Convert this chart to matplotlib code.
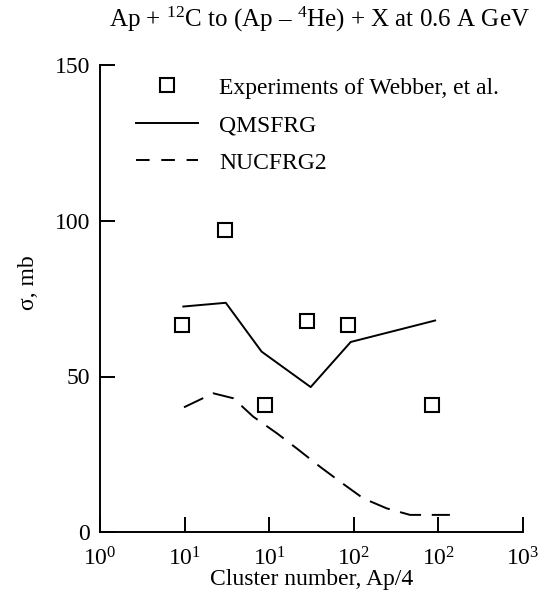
import matplotlib
matplotlib.use("Agg")
import matplotlib.pyplot as plt
from matplotlib.lines import Line2D

plt.rcParams['font.family'] = ['Liberation Serif', 'DejaVu Serif']
plt.rcParams['mathtext.fontset'] = 'custom'
plt.rcParams['mathtext.rm'] = 'Liberation Serif'
plt.rcParams['mathtext.it'] = 'Liberation Serif:italic'
plt.rcParams['mathtext.bf'] = 'Liberation Serif:bold'

# Data
exp_x = [3.8, 7.7, 14.8, 29.2, 57.7, 227]
exp_y = [66.4, 97.2, 40.7, 67.7, 66.4, 40.9]

qms_x = [3.9, 7.8, 14.0, 31.2, 60, 238]
qms_y = [72.5, 73.7, 58.0, 46.6, 61.1, 68.0]

nuc_x = [3.94, 6.36, 8.82, 12.2, 17.9, 24.8, 36.3, 50.4, 73.7, 108, 158, 303]
nuc_y = [40.1, 44.6, 43.0, 37.1, 31.8, 26.9, 21.0, 16.2, 10.8, 7.6, 5.5, 5.5]

xtick_pos = [10 ** (0.6 * k) for k in range(6)]
xtick_labels = [r"$10^{0}$", r"$10^{1}$", r"$10^{1}$", r"$10^{2}$", r"$10^{2}$", r"$10^{3}$"]
ytick_pos = [0, 50, 100, 150]

FS = 17
W, H = 543, 606
fig = plt.figure(figsize=(W / 100, H / 100), dpi=100)
ax = fig.add_axes([100 / W, 1 - 532 / H, 423 / W, (532 - 65.5) / H])

ax.set_xscale('log')
ax.set_xlim(1, 1000)
ax.set_ylim(0, 150)

ax.plot(exp_x, exp_y, linestyle='none', marker='s', markersize=10,
        markerfacecolor='none', markeredgecolor='black', markeredgewidth=1.5)
ax.plot(qms_x, qms_y, color='black', linewidth=1.4)
ax.plot(nuc_x, nuc_y, color='black', linewidth=1.4, linestyle=(0, (11, 5.5)))

ax.spines['top'].set_visible(False)
ax.spines['right'].set_visible(False)
for s in ['left', 'bottom']:
    ax.spines[s].set_linewidth(1.4)

ax.set_xticks(xtick_pos)
ax.set_xticklabels(xtick_labels)
ax.xaxis.set_minor_locator(matplotlib.ticker.NullLocator())
ax.set_yticks(ytick_pos)
ax.tick_params(axis='both', direction='in', length=11, width=1.4, labelsize=FS)
ax.tick_params(axis='x', pad=11)
ax.tick_params(axis='y', pad=7)

ax.set_xlabel("Cluster number, Ap/4", fontsize=FS)
ax.xaxis.set_label_coords(0.5, -(580 - 532) / 466.5)
ax.xaxis.label.set_va('center')
ax.set_ylabel("σ, mb", fontsize=FS)
ax.yaxis.set_label_coords(-(100 - 28) / 423, (532 - 283) / 466.5)
ax.yaxis.label.set_va('center')

fig.text(319 / W, 1 - 19 / H, r"Ap + $^{12}$C to (Ap – $^{4}$He) + X at 0.6 A GeV",
         ha='center', va='center', fontsize=18)

handles = [
    Line2D([], [], linestyle='none', marker='s', markersize=10, markerfacecolor='none',
           markeredgecolor='black', markeredgewidth=1.5),
    Line2D([], [], color='black', linewidth=1.4),
    Line2D([], [], color='black', linewidth=1.4, linestyle=(0, (7, 6))),
]
labels = ["Experiments of Webber, et al.", "QMSFRG", "NUCFRG2"]
ax.legend(handles, labels, loc='upper left', bbox_to_anchor=(136 / W, 1 - 77 / H),
          bbox_transform=fig.transFigure, frameon=False, fontsize=FS,
          handlelength=2.63, handletextpad=0.89, labelspacing=0.68, borderpad=0, borderaxespad=0)

fig.savefig("out.png", dpi=100)
